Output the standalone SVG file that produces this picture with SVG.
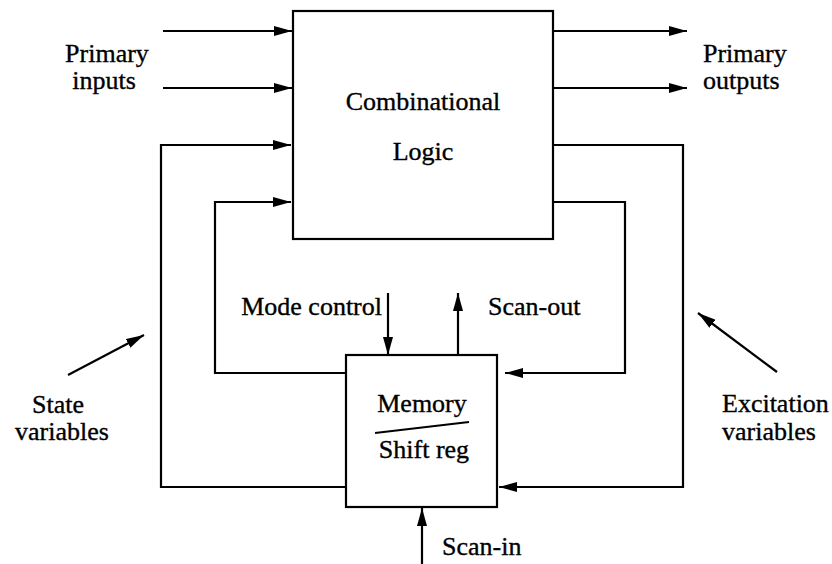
<svg xmlns="http://www.w3.org/2000/svg" width="832" height="564" viewBox="0 0 832 564">
  <style>
    .box { fill: #fff; stroke: #000; stroke-width: 2.2; }
    .wire { fill: none; stroke: #000; stroke-width: 2.2; }
    .lbl { font-family: 'Liberation Serif', 'Times New Roman', 'DejaVu Serif', serif; font-size: 26px; fill: #000; stroke: #000; stroke-width: 0.35; }
    .mid { text-anchor: middle; }
  </style>
  <defs>
    <marker id="head" markerUnits="userSpaceOnUse" markerWidth="18" markerHeight="10" refX="18" refY="5" orient="auto">
      <path d="M0,0 L18,5 L0,10 z" fill="#000"/>
    </marker>
  </defs>
  <rect width="832" height="564" fill="#fff"/>

  <!-- Connectors -->
  <g id="connectors">
    <!-- primary inputs -->
    <line class="wire" x1="163" y1="31" x2="292" y2="31" marker-end="url(#head)"/>
    <line class="wire" x1="163" y1="88" x2="292" y2="88" marker-end="url(#head)"/>
    <!-- primary outputs -->
    <line class="wire" x1="553" y1="31" x2="687" y2="31" marker-end="url(#head)"/>
    <line class="wire" x1="553" y1="88" x2="687" y2="88" marker-end="url(#head)"/>
    <!-- state variables: memory back to logic -->
    <polyline class="wire" points="346,487 161,487 161,145 291,145" marker-end="url(#head)"/>
    <polyline class="wire" points="346,373 215,373 215,202 291,202" marker-end="url(#head)"/>
    <!-- excitation variables: logic to memory -->
    <polyline class="wire" points="553,145 683,145 683,487 499,487" marker-end="url(#head)"/>
    <polyline class="wire" points="553,202 625,202 625,373 505,373" marker-end="url(#head)"/>
    <!-- mode control, scan-out, scan-in -->
    <line class="wire" x1="388" y1="293" x2="388" y2="355" marker-end="url(#head)"/>
    <line class="wire" x1="458" y1="355" x2="458" y2="293" marker-end="url(#head)"/>
    <line class="wire" x1="422" y1="564" x2="422" y2="508" marker-end="url(#head)"/>
    <!-- label pointers -->
    <line class="wire" x1="68" y1="375" x2="144" y2="335" marker-end="url(#head)"/>
    <line class="wire" x1="777" y1="372" x2="698" y2="313" marker-end="url(#head)"/>
  </g>

  <!-- Combinational logic block -->
  <g id="combinational-logic">
    <rect class="box" x="293" y="11" width="260" height="228"/>
    <text class="lbl mid" x="423" y="110">Combinational</text>
    <text class="lbl mid" x="423" y="160">Logic</text>
  </g>

  <!-- Memory / shift register block -->
  <g id="memory">
    <rect class="box" x="346" y="355" width="151" height="152"/>
    <text class="lbl mid" x="422" y="412">Memory</text>
    <line class="wire" x1="375" y1="433" x2="469" y2="422"/>
    <text class="lbl mid" x="424" y="458">Shift reg</text>
  </g>

  <!-- Labels -->
  <g id="labels">
    <text class="lbl mid" x="107" y="62">Primary</text>
    <text class="lbl mid" x="104" y="89">inputs</text>
    <text class="lbl" x="703" y="62">Primary</text>
    <text class="lbl" x="703" y="89">outputs</text>
    <text class="lbl" x="382" y="315" text-anchor="end">Mode control</text>
    <text class="lbl" x="488" y="315">Scan-out</text>
    <text class="lbl" x="442" y="555">Scan-in</text>
    <text class="lbl mid" x="58" y="413">State</text>
    <text class="lbl mid" x="62" y="440">variables</text>
    <text class="lbl" x="722" y="412">Excitation</text>
    <text class="lbl" x="722" y="440">variables</text>
  </g>
</svg>
